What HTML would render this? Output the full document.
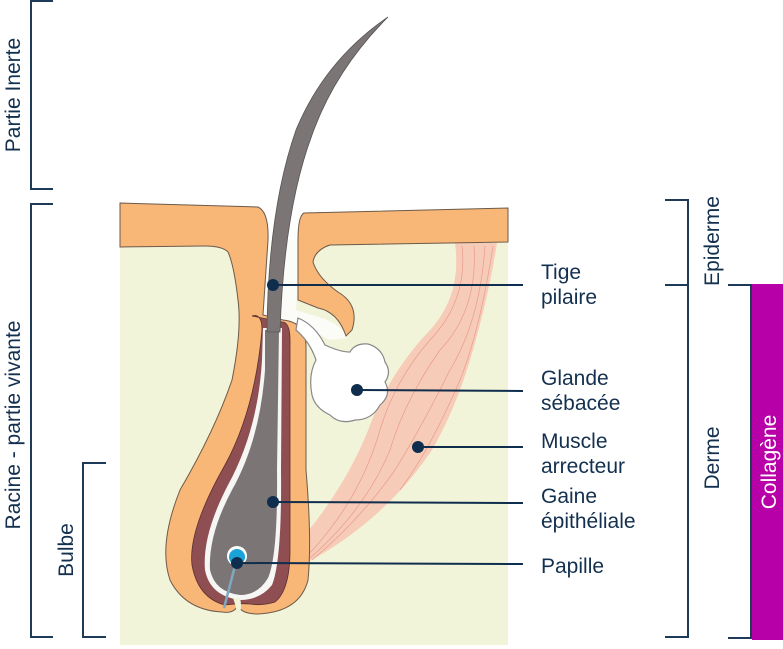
<!DOCTYPE html>
<html><head><meta charset="utf-8"><style>
html,body{margin:0;padding:0;background:#fff;}
svg{display:block;}
text{font-family:"Liberation Sans",sans-serif;fill:#14304f;}
</style></head><body>
<svg width="783" height="649" viewBox="0 0 783 649" xmlns="http://www.w3.org/2000/svg">
<rect x="120" y="240" width="388" height="405" fill="#f2f4da"/>
<!-- muscle -->
<path d="M455 243 L497 243 Q488 300 470 360 Q455 410 432 450 Q385 520 308 562 L305 535 Q350 480 372 420 Q392 370 430 330 Q462 295 455 243 Z" fill="#f6c8b4" opacity="0.9"/>
<g stroke="#e88c80" stroke-width="0.7" fill="none" opacity="0.8">
<path d="M462 246 Q468 300 430 340 Q395 380 380 430 Q360 500 308 555"/>
<path d="M474 246 Q478 310 440 350 Q405 400 390 450 Q365 510 310 558"/>
<path d="M485 246 Q480 320 450 370 Q420 430 395 470 Q360 520 312 560"/>
<path d="M493 246 Q480 330 460 380 Q430 450 400 490"/>
</g>
<!-- white canal -->
<path d="M262 240 L300 240 L296 310 L322 318 Q342 325 347 338 L330 340 L300 325 L262 325 Z" fill="#fbfbf8"/>
<!-- left epidermis + follicle outer -->
<path d="M120 203 L258 207 Q269 212 268 240 L263 315 L283 320 Q305 322 306 345 L306 470 Q312 540 308 580 Q300 612 258 614 Q242 614 238 606 Q233 614 222 612 Q185 610 170 580 Q158 545 180 490 Q215 430 232 380 Q242 330 238 300 Q234 265 228 252 Q222 246 205 246 L120 247 Z" fill="#f8b677" stroke="#6d5a4a" stroke-width="1"/>
<!-- right epidermis top -->
<path d="M304 213 L508 208 L508 242 L330 245 Q315 250 313 262 Q318 278 338 292 Q360 305 352 330 L346 336 Q338 312 318 308 L298 300 L298 240 Q298 216 304 213 Z" fill="#f8b677" stroke="#6d5a4a" stroke-width="1"/>
<!-- sebaceous gland -->
<path d="M298 318 Q315 325 325 345 Q340 352 350 352 Q355 343 368 344 Q382 348 385 362 Q392 372 385 382 Q392 395 380 405 Q372 420 355 420 Q340 425 330 415 Q315 408 312 395 Q308 375 316 360 Q310 342 296 330 Z" fill="#fff" stroke="#888" stroke-width="1.2"/>
<!-- maroon sheath -->
<path d="M252 316 Q262 313 262 330 Q255 410 225 465 Q188 530 192 565 Q198 598 225 605 Q240 603 250 604 Q262 606 275 602 Q290 590 290 550 L290 340 Q290 322 282 322 Z" fill="#8f4f52" stroke="#5a3030" stroke-width="0.8"/>
<!-- white sheath -->
<path d="M263 328 L282 328 L281 470 Q282 560 272 585 Q260 600 240 600 Q210 596 205 570 Q202 535 228 485 Q258 430 262 360 Z" fill="#f6f6f4"/>
<!-- grey bulb -->
<path d="M265 330 L279 330 L277 470 Q278 555 268 578 Q258 595 240 595 Q215 592 210 570 Q208 535 232 490 Q260 440 265 370 Z" fill="#7c7576"/>
<!-- hair shaft -->
<path d="M267 332 Q268 210 296 130 Q325 60 388 17 Q335 70 312 135 Q284 210 280 332 Z" fill="#7c7576" stroke="#555" stroke-width="0.8"/>
<!-- bottom notch -->
<path d="M233 598 Q238 612 236 614 L240 614 Q242 605 240 598 Z" fill="#f2f4da"/>
<!-- papilla -->
<circle cx="237" cy="556" r="10" fill="#fff"/>
<circle cx="237" cy="557" r="8" fill="#1aa3d8"/>
<path d="M236 562 L224 608" stroke="#7fa8c0" stroke-width="2.5" fill="none"/>
<!-- connectors -->
<g stroke="#0f2d4c" stroke-width="2" fill="none">
<line x1="273" y1="285" x2="523" y2="285"/>
<line x1="357" y1="390" x2="523" y2="391"/>
<line x1="418" y1="447" x2="523" y2="447"/>
<line x1="273" y1="502" x2="523" y2="503"/>
<line x1="237" y1="563" x2="523" y2="564"/>
</g>
<g fill="#0f2d4c">
<circle cx="273" cy="285" r="6"/>
<circle cx="357" cy="390" r="6"/>
<circle cx="418" cy="447" r="6"/>
<circle cx="273" cy="502" r="6"/>
<circle cx="237" cy="563" r="6"/>
</g>
<g font-size="21">
<text x="541" y="279">Tige</text>
<text x="541" y="304">pilaire</text>
<text x="541" y="385">Glande</text>
<text x="541" y="410">sébacée</text>
<text x="541" y="448">Muscle</text>
<text x="541" y="473">arrecteur</text>
<text x="541" y="503">Gaine</text>
<text x="541" y="528">épithéliale</text>
<text x="541" y="573">Papille</text>
</g>
<g stroke="#1d3a58" stroke-width="2" fill="none">
<path d="M53 1 L31 1 L31 189 L53 189"/>
<path d="M53 204 L31 204 L31 637 L53 637"/>
<path d="M106 463 L83 463 L83 637 L106 637"/>
<path d="M665 200 L688 200 L688 637 L665 637 M665 285 L688 285"/>
<path d="M728 285 L751 285 L751 638 L728 638"/>
</g>
<rect x="752" y="284" width="31" height="356" fill="#b800a8"/>
<g font-size="21">
<text transform="translate(20,95) rotate(-90)" text-anchor="middle">Partie Inerte</text>
<text transform="translate(20,425) rotate(-90)" text-anchor="middle">Racine - partie vivante</text>
<text transform="translate(73,550) rotate(-90)" text-anchor="middle">Bulbe</text>
<text transform="translate(719,241) rotate(-90)" text-anchor="middle">Epiderme</text>
<text transform="translate(719,458) rotate(-90)" text-anchor="middle">Derme</text>
<text transform="translate(776,462) rotate(-90)" text-anchor="middle" style="fill:#fff">Collagène</text>
</g>
</svg>
</body></html>
